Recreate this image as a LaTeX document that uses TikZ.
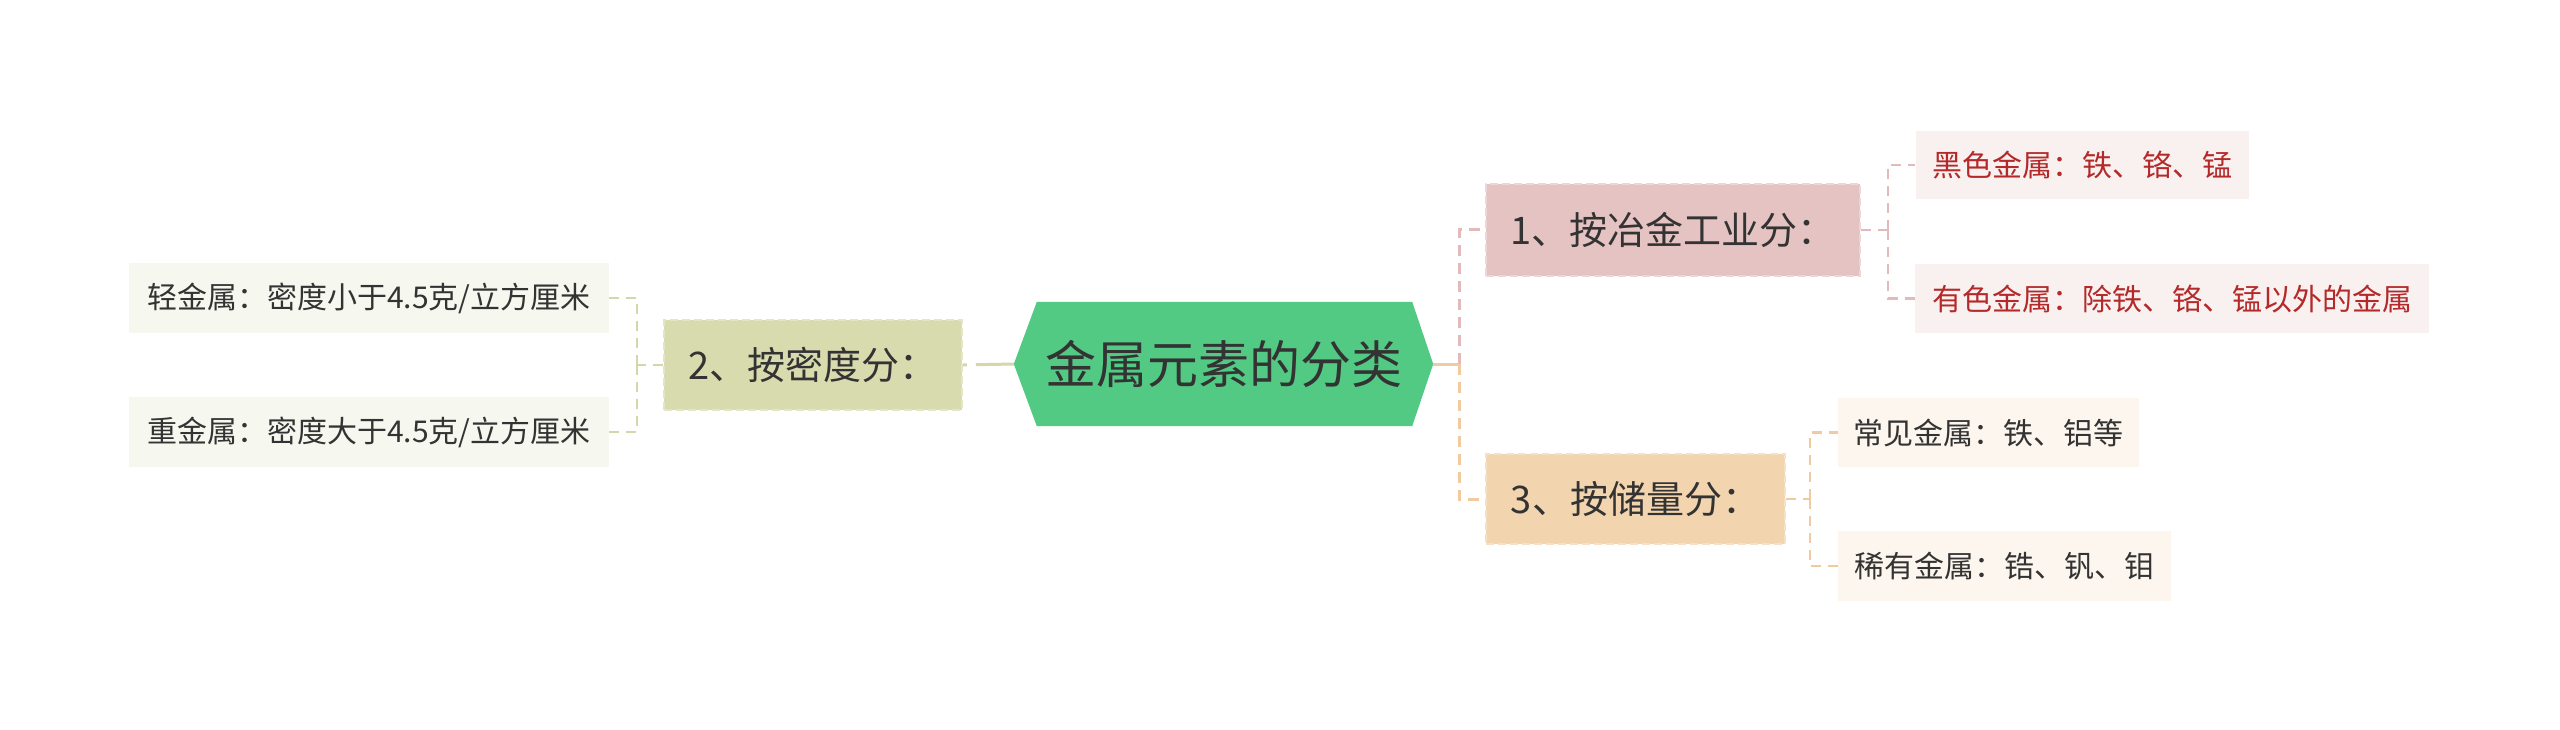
\documentclass[tikz,border=0pt]{standalone}
\usepackage{fontspec}
\setmainfont{Noto Sans CJK SC}
\usetikzlibrary{backgrounds}
\definecolor{rootgreen}{HTML}{52CA84}
\definecolor{txt}{HTML}{333333}
\definecolor{redtxt}{HTML}{B42A2A}
\definecolor{pinkfill}{HTML}{E6C3C3}
\definecolor{pinkedge}{HTML}{EFD6D6}
\definecolor{olivefill}{HTML}{D8DBAE}
\definecolor{oliveedge}{HTML}{E3E5C6}
\definecolor{peachfill}{HTML}{F2D4AF}
\definecolor{peachedge}{HTML}{F6E0C6}
\definecolor{leafolive}{HTML}{F6F8EF}
\definecolor{leafpink}{HTML}{F9F0F0}
\definecolor{leafpeach}{HTML}{FDF6EE}
\definecolor{pinkline}{HTML}{E3BABB}
\definecolor{orangeline}{HTML}{F0CBA2}
\definecolor{oliveline}{HTML}{D5D7A8}
\tikzset{
  rootbox/.style={draw=none, minimum width=419pt, minimum height=124pt, inner sep=0pt,
    text=txt, font=\fontsize{51}{60}\selectfont},
  midbox/.style={rectangle, dashed, dash pattern=on 8pt off 4pt, line width=2pt,
    inner sep=0pt, text=txt, font=\fontsize{38}{44}\selectfont},
  leafbox/.style={rectangle, inner sep=0pt, minimum height=70pt,
    text=txt, font=\fontsize{30}{36}\selectfont},
  mainlink/.style={line width=3pt, dash pattern=on 11pt off 7pt},
  leaflink/.style={line width=2.4pt, dash pattern=on 10pt off 7pt},
}
\begin{document}
\begin{tikzpicture}[x=1pt,y=-1pt]
\useasboundingbox (0,0) rectangle (2560,730);

% root
\node[rootbox] (root) at (1223.5,364) {金属元素的分类};
\begin{pgfonlayer}{background}
\fill[rootgreen] (root.west) -- ([xshift=23pt]root.north west) -- ([xshift=-21pt]root.north east)
  -- (root.east) -- ([xshift=-21pt]root.south east) -- ([xshift=23pt]root.south west) -- cycle;
\end{pgfonlayer}

% main branches
\node[midbox, fill=pinkfill, draw=pinkedge, minimum width=374pt, minimum height=92pt] (n1) at (1673,230) {1、按冶金工业分：};
\node[midbox, fill=olivefill, draw=oliveedge, minimum width=298pt, minimum height=90pt] (n2) at (813,365) {2、按密度分：};
\node[midbox, fill=peachfill, draw=peachedge, minimum width=299pt, minimum height=90pt] (n3) at (1635.5,499) {3、按储量分：};

% leaves
\node[leafbox, fill=leafolive, minimum width=480pt] (l1) at (369,298) {轻金属：密度小于4.5克/立方厘米};
\node[leafbox, fill=leafolive, minimum width=480pt] (l2) at (369,432) {重金属：密度大于4.5克/立方厘米};
\node[leafbox, fill=leafpink, text=redtxt, minimum width=333pt, minimum height=68pt] (a1) at (2082,165) {黑色金属：铁、铬、锰};
\node[leafbox, fill=leafpink, text=redtxt, minimum width=514pt, minimum height=69pt] (a2) at (2172,298.5) {有色金属：除铁、铬、锰以外的金属};
\node[leafbox, fill=leafpeach, minimum width=301pt, minimum height=69pt] (b1) at (1988.5,432.5) {常见金属：铁、铝等};
\node[leafbox, fill=leafpeach, minimum width=333pt] (b2) at (2004.5,566) {稀有金属：锆、钒、钼};

% trunk coordinates
\coordinate (tR) at (1459,364);
\coordinate (tL) at (637,365);
\coordinate (tA) at (1888,230);
\coordinate (tB) at (1810,499);

% root connectors
\draw[mainlink, pinkline] (tR) |- (n1.west);
\draw[mainlink, orangeline] (tR) |- (n3.west);
\draw[line width=3pt, orangeline] (root.east) -- (tR);
\draw[line width=3pt, oliveline, dash pattern=on 38pt off 9pt on 10pt off 7pt] (root.west) -- (n2.east);

% leaf connectors
\draw[leaflink, oliveline] (n2.west) -- (tL);
\draw[leaflink, oliveline] (tL) |- (l1.east);
\draw[leaflink, oliveline] (tL) |- (l2.east);
\draw[leaflink, pinkline] (n1.east) -- (tA);
\draw[leaflink, pinkline] (tA) |- (a1.west);
\draw[leaflink, pinkline] (tA) |- (a2.west);
\draw[leaflink, orangeline] (n3.east) -- (tB);
\draw[leaflink, orangeline] (tB) |- (b1.west);
\draw[leaflink, orangeline] (tB) |- (b2.west);
\end{tikzpicture}
\end{document}
